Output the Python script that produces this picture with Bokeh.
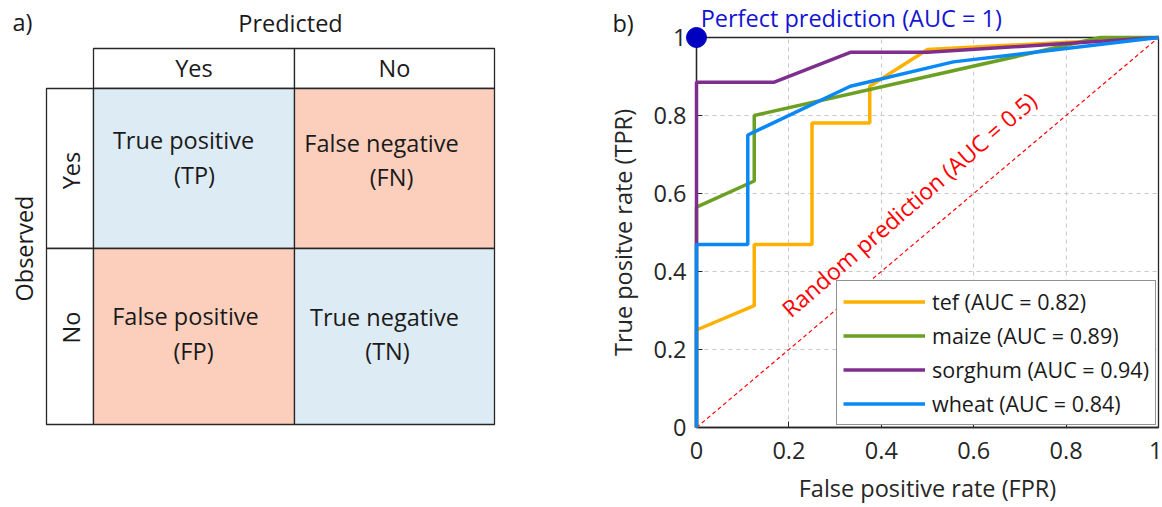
import math
from bokeh.plotting import figure
from bokeh.layouts import row
from bokeh.models import Range1d, Label, Legend, LegendItem, FixedTicker
from bokeh.core.properties import value
from bokeh.embed import file_html
from bokeh.resources import INLINE

FONT = "Open Sans"

# ---------------- data ----------------
# ROC curves (false positive rate, true positive rate)
tef_fpr = [0, 0, 0.125, 0.125, 0.25, 0.25, 0.375, 0.375, 0.5, 1]
tef_tpr = [0, 0.25, 0.3125, 0.469, 0.469, 0.781, 0.781, 0.875, 0.969, 1]
maize_fpr = [0, 0, 0.125, 0.125, 0.875, 1]
maize_tpr = [0, 0.565, 0.632, 0.8, 1, 1]
sorghum_fpr = [0, 0, 0.167, 0.333, 0.5, 1]
sorghum_tpr = [0, 0.885, 0.885, 0.962, 0.962, 1]
wheat_fpr = [0, 0, 0.111, 0.111, 0.333, 0.556, 1]
wheat_tpr = [0, 0.469, 0.469, 0.75, 0.875, 0.9375, 1]

crops = ["tef", "maize", "sorghum", "wheat"]
auc = [0.82, 0.89, 0.94, 0.84]
crop_colors = ["#FFB000", "#6BA022", "#7E2F8E", "#0A88F5"]
crop_fpr = [tef_fpr, maize_fpr, sorghum_fpr, wheat_fpr]
crop_tpr = [tef_tpr, maize_tpr, sorghum_tpr, wheat_tpr]

ticks = [0, 0.2, 0.4, 0.6, 0.8, 1]
tick_labels = ["0", "0.2", "0.4", "0.6", "0.8", "1"]

# confusion-matrix diagram
pred_labels = ["Yes", "No"]
obs_labels = ["Yes", "No"]
cell_line1 = [["True positive", "False negative"], ["False positive", "True negative"]]
cell_line2 = [["(TP)", "(FN)"], ["(FP)", "(TN)"]]
cell_colors = [["#DDEBF4", "#FCCFBD"], ["#FCCFBD", "#DDEBF4"]]

# ---------------- layout constants ----------------
H = 507
LW = 560
RW = 602
TOP = 37
BOTTOM = 80
TEXT_SIZE = "23.5px"
LINE_COL = "#262626"
TXT_COL = "#1a1a1a"

# ---------------- left panel (diagram) ----------------
left = figure(width=LW, height=H, x_range=Range1d(0, LW), y_range=Range1d(H - BOTTOM, TOP),
              output_backend="svg", toolbar_location=None,
              min_border_left=0, min_border_right=0,
              min_border_top=TOP, min_border_bottom=BOTTOM,
              x_axis_location=None, y_axis_location=None)
left.grid.visible = False
left.outline_line_color = None

col_x = [93, 294, 494]
row_y = [88, 248, 424]
head_top = 48
lab_left = 46

left.quad(left=col_x[:-1], right=col_x[1:], top=[head_top] * 2, bottom=[row_y[0]] * 2,
          fill_color="white", line_color=LINE_COL, line_width=1.3)
left.quad(left=[lab_left] * 2, right=[col_x[0]] * 2, top=row_y[:-1], bottom=row_y[1:],
          fill_color="white", line_color=LINE_COL, line_width=1.3)
ql, qr, qt, qb, qc = [], [], [], [], []
for r in range(2):
    for c in range(2):
        ql.append(col_x[c]); qr.append(col_x[c + 1])
        qt.append(row_y[r]); qb.append(row_y[r + 1])
        qc.append(cell_colors[r][c])
left.quad(left=ql, right=qr, top=qt, bottom=qb, fill_color=qc,
          line_color=LINE_COL, line_width=1.3)

def ltext(x, y, t, angle=0, align="center", size=TEXT_SIZE):
    left.text(x=[x], y=[y], text=[t], angle=angle, text_font=value(FONT),
              text_font_size=size, text_align=align, text_baseline="middle",
              text_color=TXT_COL, level="overlay")

ltext(12, 21, "a)", align="left")
ltext(290, 22, "Predicted")
for c in range(2):
    ltext((col_x[c] + col_x[c + 1]) / 2, 67, pred_labels[c])
ltext(23, 248, "Observed", angle=math.pi / 2)
ltext(70, 170, obs_labels[0], angle=math.pi / 2)
ltext(70, 327, obs_labels[1], angle=math.pi / 2)

line1_pos = [[(183, 139), (381, 142)], [(185, 315), (384, 316)]]
line2_pos = [[(194, 174), (391, 176)], [(193, 350), (387, 350)]]
for r in range(2):
    for c in range(2):
        ltext(*line1_pos[r][c], cell_line1[r][c])
        ltext(*line2_pos[r][c], cell_line2[r][c])

# ---------------- right panel (ROC) ----------------
p = figure(width=RW, height=H, x_range=Range1d(0, 1), y_range=Range1d(0, 1),
           output_backend="svg", toolbar_location=None,
           min_border_left=136, min_border_right=4, min_border_top=TOP, min_border_bottom=BOTTOM)
p.outline_line_color = LINE_COL
p.outline_line_width = 1.3

overrides = {t: l for t, l in zip(ticks, tick_labels)}
for ax in [p.xaxis[0], p.yaxis[0]]:
    ax.ticker = FixedTicker(ticks=ticks)
    ax.major_label_overrides = overrides
    ax.major_label_text_font = FONT
    ax.major_label_text_font_size = TEXT_SIZE
    ax.major_label_text_color = "#262626"
    ax.axis_label_text_font = FONT
    ax.axis_label_text_font_size = TEXT_SIZE
    ax.axis_label_text_font_style = "normal"
    ax.axis_label_text_color = "#262626"
    ax.major_tick_in = 6
    ax.major_tick_out = 0
    ax.minor_tick_line_color = None
    ax.axis_line_color = LINE_COL
    ax.axis_line_width = 1.3
    ax.major_tick_line_color = LINE_COL
p.xaxis.axis_label = "False positive rate (FPR)"
p.yaxis.axis_label = "True positve rate (TPR)"
p.xaxis.major_label_standoff = 14
p.xaxis.axis_label_standoff = 10
p.yaxis.major_label_standoff = 10
p.yaxis.axis_label_standoff = 11

for g in [p.xgrid[0], p.ygrid[0]]:
    g.ticker = FixedTicker(ticks=ticks)
    g.grid_line_color = "#c8c8c8"
    g.grid_line_dash = "4 4"
    g.grid_line_width = 1

# random prediction diagonal
p.line(x=[0, 1], y=[0, 1], line_color="#FF0000", line_width=1.2, line_dash="4 3")

items = []
for name, a, col, fx, ty in zip(crops, auc, crop_colors, crop_fpr, crop_tpr):
    r = p.line(x=fx, y=ty, line_color=col, line_width=3.5, level="overlay")
    items.append(LegendItem(label=f"{name} (AUC = {a:.2f})", renderers=[r]))

# perfect prediction point
p.scatter(x=[0], y=[1], size=20, fill_color="#0000C0", line_color="#0000C0", level="overlay")

p.text(x=[0.009], y=[1.049], text=["Perfect prediction (AUC = 1)"], text_font=value(FONT),
       text_font_size=TEXT_SIZE, text_color="#1414D2", text_baseline="middle",
       text_align="left", level="overlay")
p.text(x=[-0.182], y=[1.038], text=["b)"], text_font=value(FONT), text_font_size=TEXT_SIZE,
       text_color=TXT_COL, text_baseline="middle", text_align="left", level="overlay")
p.add_layout(Label(x=0.192, y=0.296, text="Random prediction (AUC = 0.5)", angle=41,
                   angle_units="deg", text_font=FONT, text_font_size="23px",
                   text_color="#FF0000", text_baseline="alphabetic", text_align="left"))

legend = Legend(items=items, location="bottom_right", border_line_color=LINE_COL,
                border_line_width=1.2, background_fill_color="white", background_fill_alpha=1,
                label_text_font=FONT, label_text_font_size="21.5px", label_text_color=TXT_COL,
                glyph_width=82, glyph_height=29, spacing=5, padding=6, margin=2,
                label_standoff=7)
p.add_layout(legend)

layout = row(left, p)
open("out.html", "w").write(file_html(layout, INLINE))
